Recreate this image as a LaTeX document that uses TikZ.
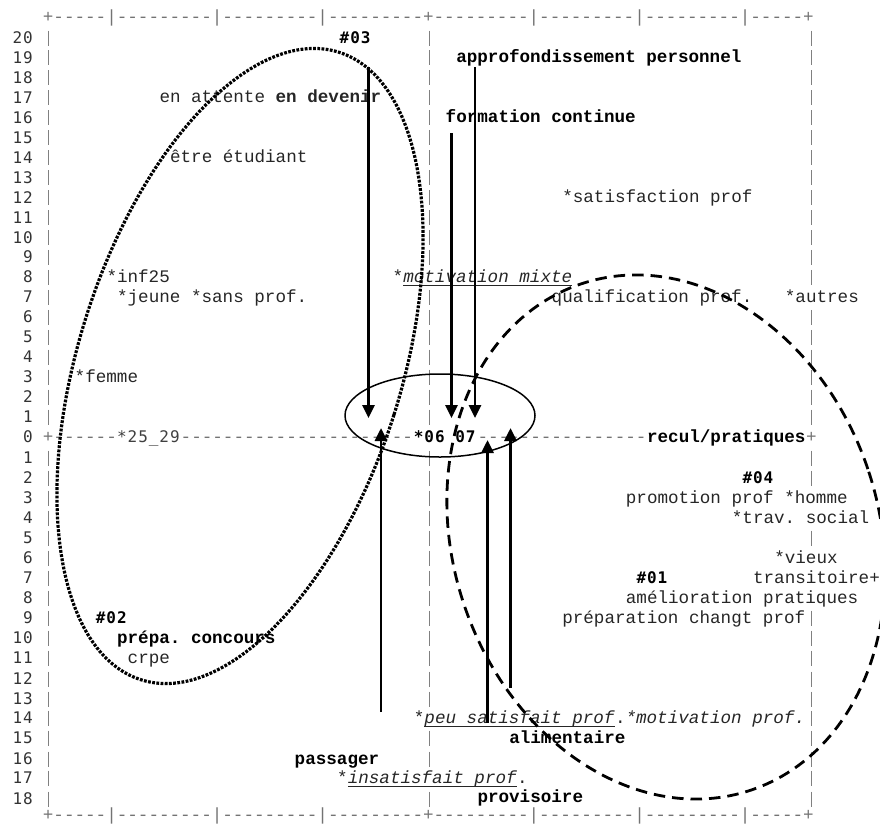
\documentclass[tikz,border=0pt]{standalone}
\usepackage{fontspec}
\setmonofont{Liberation Mono}
\newfontfamily\lblf{DejaVu Sans Mono}[LetterSpace=6]
\usetikzlibrary{arrows.meta}
\newcommand\mfs{\ttfamily\fontsize{17.6}{20}\selectfont}
\newcommand\lfs{\lblf\fontsize{16}{18}\selectfont}
\newcommand\myul[1]{\setbox0=\hbox{#1}\rlap{\rule[-3.8pt]{\wd0}{0.8pt}}\box0}
\tikzset{
 gridtxt/.style={anchor=base west, inner sep=0pt, font=\mfs, text=black!55},
 txt/.style={anchor=base west, inner sep=0pt, font=\mfs, text=black!85},
 bld/.style={anchor=base west, inner sep=0pt, font=\mfs\bfseries, text=black},
 rowlbl/.style={anchor=base east, inner sep=0pt, font=\lfs, text=black!80},
 lbltxt/.style={anchor=base west, inner sep=0pt, font=\lfs, text=black!75},
 lblbold/.style={anchor=base west, inner sep=0pt, font=\lfs\bfseries, text=black},
 gridbar/.style={draw=black!50, line width=0.9pt},
 arr/.style={line width=2.9pt, -{Triangle[width=12pt,length=13pt]}},
 dotell/.style={line width=3.2pt, dash pattern=on 2.8pt off 1.4pt},
 dashell/.style={line width=2.8pt, dash pattern=on 11.5pt off 7pt},
 core/.style={line width=1.5pt}
}
\begin{document}
\begin{tikzpicture}[x=1pt,y=-1pt]
\useasboundingbox (0,0) rectangle (880,823);

% ---- borders
\node[gridtxt] (topb) at (42.7,22.3) {+-----|---------|---------|---------+---------|---------|---------|-----+};
\node[gridtxt] (botb) at (42.7,820) {+-----|---------|---------|---------+---------|---------|---------|-----+};

% ---- upper rows
\foreach \k in {1,...,20}{
  \pgfmathsetmacro\yc{437-19.95*\k}
  \node[rowlbl] (ru\k) at (33,{\yc+5.5}) {\k};
  \draw[gridbar] (48,{\yc-7.5}) -- (48,{\yc+7.5});
}
\foreach \k in {1,...,7,9,10,...,20}{
  \pgfmathsetmacro\yc{437-19.95*\k}
  \draw[gridbar] (429.6,{\yc-7.5}) -- (429.6,{\yc+7.5});
}
\foreach \k in {1,...,6,8,9,...,20}{
  \pgfmathsetmacro\yc{437-19.95*\k}
  \draw[gridbar] (811.2,{\yc-7.5}) -- (811.2,{\yc+7.5});
}
% ---- lower rows
\foreach \k/\yc in {1/458,2/478,3/498,4/518,5/538,6/558,7/578,8/598,9/618,10/638,11/658,12/679,13/699,14/718,15/738,16/759,17/778,18/799}{
  \node[rowlbl] (rl\k) at (33,{\yc+5.5}) {\k};
  \draw[gridbar] (48,{\yc-7.5}) -- (48,{\yc+7.5});
}
\foreach \yc in {458,478,498,518,538,558,578,598,618,638,658,679,699,738,759,799}{
  \draw[gridbar] (429.6,{\yc-7.5}) -- (429.6,{\yc+7.5});
}
\foreach \yc in {458,478,538,618,638,658,679,699,718,738,759,778,799}{
  \draw[gridbar] (811.2,{\yc-7.5}) -- (811.2,{\yc+7.5});
}

% ---- axis row 0
\node[rowlbl] (r0) at (33,442.5) {0};
\node[gridtxt] (ax0) at (42.7,442) {+------};
\node[lbltxt] (v2529) at (116.9,442.5) {*25\_29};
\node[gridtxt] (ax1) at (180.5,442) {----------------------};
\node[lblbold] (v0607) at (413.7,442.5) {*06 07};
\node[gridtxt] (ax2) at (477.3,442) {----------------};
\node[bld] (recul) at (646.9,442) {recul/pratiques};
\node[gridtxt] (ax3) at (805.9,442) {+};

% ---- upper texts
\node[lblbold] (h03) at (339.5,43.5) {\#03};
\node[bld] (appro) at (456.1,62.9) {approfondissement personnel};
\node[txt] (attente) at (159.3,102.9) {en attente \textbf{en devenir}};
\node[bld] (formc) at (445.5,122.8) {formation continue};
\node[txt] (etud) at (169.9,162.7) {être étudiant};
\node[txt] (satis) at (562.1,202.6) {*satisfaction prof};
\node[txt] (inf25) at (106.3,282.4) {*inf25};
\node[txt] (motmix) at (392.5,282.4) {*\myul{\textit{motivation mixte}}};
\node[txt] (jeune) at (116.9,302.4) {*jeune *sans prof.};
\node[txt] (qualif) at (551.5,302.4) {qualification prof.};
\node[txt] (autres) at (784.7,302.4) {*autres};
\node[txt] (femme) at (74.5,382.2) {*femme};

% ---- lower texts
\node[lblbold] (h04) at (742.3,483.5) {\#04};
\node[txt] (promo) at (625.7,503) {promotion prof *homme};
\node[txt] (trav) at (731.7,523) {*trav. social};
\node[txt] (vieux) at (774.1,563) {*vieux};
\node[lblbold] (h01) at (636.3,583.5) {\#01};
\node[txt] (transi) at (752.9,583) {transitoire+};
\node[txt] (amelio) at (625.7,603) {amélioration pratiques};
\node[txt] (prepch) at (562.1,623) {préparation changt prof};
\node[lblbold] (h02) at (95.7,623.5) {\#02};
\node[bld] (prepa) at (116.9,643) {prépa. concours};
\node[txt] (crpe) at (127.5,663) {crpe};
\node[txt] (peusat) at (413.7,723) {*\myul{\textit{peu satisfait prof}}.\textit{*motivation prof.}};
\node[bld] (alim) at (509.1,743) {alimentaire};
\node[bld] (passag) at (294.5,764) {passager};
\node[txt] (insat) at (337,783) {*\myul{\textit{insatisfait prof}}.};
\node[bld] (provis) at (477.3,802) {provisoire};

% ---- ellipses
\begin{scope}[shift={(240,366)},rotate=-17.5]
  \draw[dotell] (0,0) ellipse [x radius=161.5pt, y radius=329pt];
\end{scope}
\begin{scope}[shift={(666,537)},rotate=18.6]
  \draw[dashell] (0,0) ellipse [x radius=213pt, y radius=267pt];
\end{scope}
\draw[core] (440,415.5) ellipse [x radius=95pt, y radius=41.5pt];

% ---- arrows
\coordinate (s1) at (368.5,67);  \coordinate (e1) at (368.5,418);
\coordinate (s2) at (451.5,133); \coordinate (e2) at (451.5,418);
\coordinate (s3) at (475,67);    \coordinate (e3) at (475,418);
\coordinate (s4) at (381,712);   \coordinate (e4) at (381,428);
\coordinate (s5) at (487.5,723); \coordinate (e5) at (487.5,440);
\coordinate (s6) at (510.5,688); \coordinate (e6) at (510.5,428);
\draw[arr] (s1) -- (e1);
\draw[arr] (s2) -- (e2);
\draw[arr] (s3) -- (e3);
\draw[arr] (s4) -- (e4);
\draw[arr] (s5) -- (e5);
\draw[arr] (s6) -- (e6);
\end{tikzpicture}
\end{document}
